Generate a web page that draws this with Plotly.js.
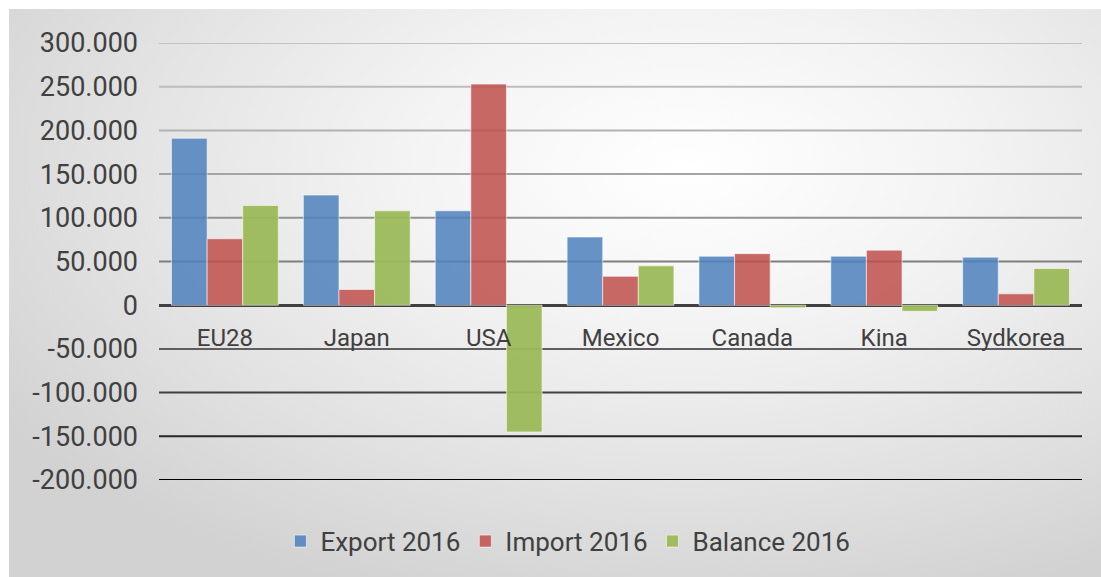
<!DOCTYPE html>
<html>
<head>
<meta charset="utf-8">
<script src="https://cdn.plot.ly/plotly-3.0.1.min.js"></script>
<style>
  html, body { margin: 0; padding: 0; background: #ffffff; width: 1101px; height: 577px; overflow: hidden; }
  #panel { position: absolute; left: 9px; top: 9px; width: 1092px; height: 568px;
    background: radial-gradient(ellipse 75% 80% at 62% 28%, #ffffff 0%, #f3f3f3 35%, #e2e2e2 70%, #d2d2d2 100%); }
  #chart { position: absolute; left: 0; top: 0; width: 1101px; height: 577px; }
</style>
</head>
<body>
<div id="panel"></div>
<div id="chart"></div>
<script>
const categories = ["EU28", "Japan", "USA", "Mexico", "Canada", "Kina", "Sydkorea"];
const export2016 = [191000, 126000, 108000, 78000, 56000, 56000, 55000];
const import2016 = [76000, 18000, 253000, 33000, 59000, 63000, 13000];
const balance2016 = [114000, 108000, -145000, 45000, -3000, -7000, 42000];
const seriesNames = ["Export 2016", "Import 2016", "Balance 2016"];
const tickVals = [300000, 250000, 200000, 150000, 100000, 50000, 0, -50000, -100000, -150000, -200000];
const tickText = ["300.000", "250.000", "200.000", "150.000", "100.000", "50.000", "0", "-50.000", "-100.000", "-150.000", "-200.000"];
const gridColors = ["#c2c2c2", "#bcbcbc", "#b2b2b2", "#a4a4a4", "#929292", "#7e7e7e", null, "#5e5e5e", "#404040", "#262626", "#000000"];

const colors = ["rgba(79,129,189,0.86)", "rgba(192,80,77,0.86)", "rgba(155,187,89,0.95)"];
const series = [export2016, import2016, balance2016];

const traces = series.map((vals, i) => ({
  type: "bar",
  name: seriesNames[i],
  x: categories,
  y: vals,
  marker: { color: colors[i], line: { color: "rgba(255,255,255,0.55)", width: 1 } },
  hoverinfo: "x+y+name"
}));

const shapes = [];
tickVals.forEach((v, i) => {
  if (gridColors[i]) {
    shapes.push({
      type: "line", xref: "paper", yref: "y", x0: 0, x1: 1, y0: v, y1: v,
      layer: "below", line: { color: gridColors[i], width: 2 }
    });
  }
});

const layout = {
  width: 1101, height: 577,
  margin: { l: 159, r: 19, t: 43, b: 97 },
  paper_bgcolor: "rgba(0,0,0,0)",
  plot_bgcolor: "rgba(0,0,0,0)",
  barmode: "group",
  bargap: 0.19,
  bargroupgap: 0,
  font: { family: "Roboto, sans-serif", color: "#404040" },
  showlegend: true,
  legend: {
    orientation: "h", x: 0.443, xanchor: "center", y: -0.14, yanchor: "middle",
    font: { size: 26, color: "#404040" }, bgcolor: "rgba(0,0,0,0)", itemwidth: 30
  },
  xaxis: {
    anchor: "free", position: 0.4, showline: false, showgrid: false, zeroline: false,
    ticks: "", tickfont: { size: 24, color: "#404040" }, ticklabelstandoff: 16,
    fixedrange: true
  },
  yaxis: {
    range: [-200000, 300000], tickvals: tickVals, ticktext: tickText,
    showgrid: false, zeroline: true, zerolinecolor: "#404040", zerolinewidth: 3,
    ticks: "", tickfont: { size: 27, color: "#404040" }, ticklabelstandoff: 20,
    fixedrange: true
  },
  shapes: shapes
};

Plotly.newPlot("chart", traces, layout, { displayModeBar: false, staticPlot: true });
</script>
</body>
</html>
